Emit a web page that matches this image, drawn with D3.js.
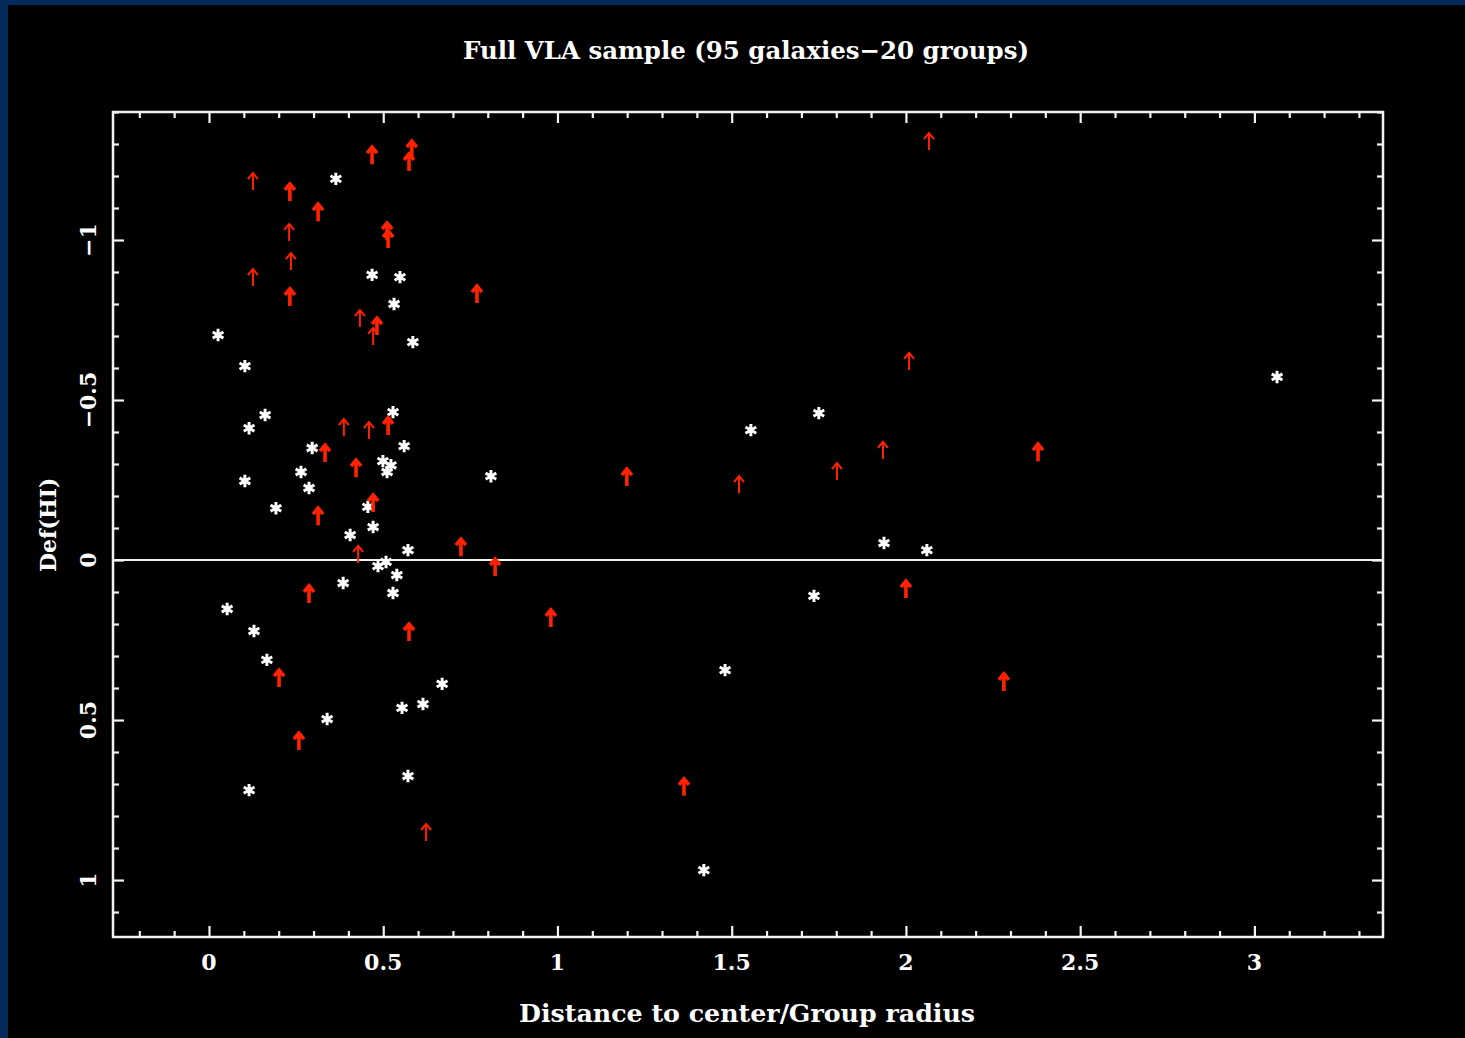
<!DOCTYPE html>
<html>
<head>
<meta charset="utf-8">
<script src="https://cdn.jsdelivr.net/npm/d3@7"></script>
<style>
  html, body { margin: 0; padding: 0; background: #022b5c; }
  svg { display: block; }
  text { font-family: "DejaVu Serif", "Liberation Serif", serif; font-weight: bold; fill: #ffffff; }
</style>
</head>
<body>
<svg id="chart" width="1465" height="1038"></svg>
<script>
// ---- Data ----
const titleText = "Full VLA sample (95 galaxies\u221220 groups)";
const xLabel = "Distance to center/Group radius";
const yLabel = "Def(HI)";

const xMajorTicks = [0, 0.5, 1, 1.5, 2, 2.5, 3];
const xTickLabels = ["0", "0.5", "1", "1.5", "2", "2.5", "3"];
const yMajorTicks = [-1, -0.5, 0, 0.5, 1];
const yTickLabels = ["\u22121", "\u22120.5", "0", "0.5", "1"];

// Detections (white asterisks): [distance, Def(HI)]
const detections = [
  [0.364, -1.191], [0.026, -0.703], [0.103, -0.606], [0.161, -0.453], [0.115, -0.412],
  [0.468, -0.891], [0.548, -0.884], [0.531, -0.800], [0.585, -0.681], [0.528, -0.462],
  [0.560, -0.356], [0.296, -0.350], [0.264, -0.275], [0.287, -0.225], [0.103, -0.247],
  [0.192, -0.162], [0.499, -0.309], [0.522, -0.296], [0.511, -0.275], [0.456, -0.166],
  [0.405, -0.078], [0.471, -0.103], [0.571, -0.031], [0.485, 0.019], [0.508, 0.006],
  [0.539, 0.047], [0.528, 0.103], [0.385, 0.072], [0.052, 0.153], [0.129, 0.222],
  [0.166, 0.312], [0.669, 0.387], [0.614, 0.450], [0.554, 0.462], [0.339, 0.497],
  [0.571, 0.675], [0.115, 0.719], [0.809, -0.262], [1.555, -0.406], [1.750, -0.459],
  [1.937, -0.053], [2.060, -0.031], [1.736, 0.112], [1.481, 0.344], [1.420, 0.969],
  [3.065, -0.572]
];

// Upper limits drawn with bold red arrows: [distance, Def(HI) limit]
const limitsBold = [
  [0.232, -1.122], [0.313, -1.059], [0.232, -0.794], [0.468, -1.237], [0.582, -1.256],
  [0.574, -1.216], [0.511, -1.000], [0.514, -0.975], [0.769, -0.803], [0.482, -0.703],
  [0.514, -0.391], [0.333, -0.306], [0.422, -0.259], [0.471, -0.150], [0.313, -0.109],
  [0.287, 0.134], [0.574, 0.253], [0.201, 0.397], [0.258, 0.594], [0.723, -0.012],
  [0.821, 0.050], [0.981, 0.209], [1.199, -0.231], [1.363, 0.737], [2.281, 0.409],
  [2.379, -0.309], [2.000, 0.119]
];

// Upper limits drawn with thin red arrows
const limitsThin = [
  [0.126, -1.156], [0.230, -0.997], [0.235, -0.906], [0.126, -0.856], [0.433, -0.728],
  [0.471, -0.672], [0.387, -0.387], [0.459, -0.378], [0.428, 0.009], [0.623, 0.878],
  [1.521, -0.209], [1.802, -0.250], [1.934, -0.316], [2.066, -1.281], [2.009, -0.594]
];

// ---- Drawing ----
const svg = d3.select("#chart");
const W = 1465, H = 1038;
const plot = { left: 113, right: 1383, top: 112, bottom: 937 };

svg.append("rect").attr("x", 8).attr("y", 5).attr("width", W - 8).attr("height", H - 5).attr("fill", "#000");

const x = d3.scaleLinear().domain([-0.2755, 3.369]).range([plot.left, plot.right]);
const y = d3.scaleLinear().domain([-1.4, 1.178]).range([plot.top, plot.bottom]);

const axisColor = "#f2f2f2";
const xMinor = d3.range(-2, 34).map(d => d / 10).filter(d => xMajorTicks.indexOf(d) < 0);
const yMinor = d3.range(-14, 12).map(d => d / 10).filter(d => yMajorTicks.indexOf(d) < 0);

function styleAxis(g) {
  g.select(".domain").remove();
  g.selectAll(".tick line").attr("stroke", axisColor).attr("stroke-width", 2.2);
  g.selectAll(".tick text").remove();
}

// bottom
svg.append("g").attr("transform", `translate(0,${plot.bottom})`)
  .call(d3.axisBottom(x).tickValues(xMinor).tickSize(-6)).call(styleAxis);
svg.append("g").attr("transform", `translate(0,${plot.bottom})`)
  .call(d3.axisBottom(x).tickValues(xMajorTicks).tickSize(-11)).call(styleAxis);
// top
svg.append("g").attr("transform", `translate(0,${plot.top})`)
  .call(d3.axisTop(x).tickValues(xMinor).tickSize(-6)).call(styleAxis);
svg.append("g").attr("transform", `translate(0,${plot.top})`)
  .call(d3.axisTop(x).tickValues(xMajorTicks).tickSize(-11)).call(styleAxis);
// left
svg.append("g").attr("transform", `translate(${plot.left},0)`)
  .call(d3.axisLeft(y).tickValues(yMinor).tickSize(-6)).call(styleAxis);
svg.append("g").attr("transform", `translate(${plot.left},0)`)
  .call(d3.axisLeft(y).tickValues(yMajorTicks).tickSize(-11)).call(styleAxis);
// right
svg.append("g").attr("transform", `translate(${plot.right},0)`)
  .call(d3.axisRight(y).tickValues(yMinor).tickSize(-6)).call(styleAxis);
svg.append("g").attr("transform", `translate(${plot.right},0)`)
  .call(d3.axisRight(y).tickValues(yMajorTicks).tickSize(-11)).call(styleAxis);

// frame
svg.append("rect")
  .attr("x", plot.left).attr("y", plot.top)
  .attr("width", plot.right - plot.left).attr("height", plot.bottom - plot.top)
  .attr("fill", "none").attr("stroke", axisColor).attr("stroke-width", 2.5);

// zero line
svg.append("line")
  .attr("x1", plot.left).attr("x2", plot.right)
  .attr("y1", y(0)).attr("y2", y(0))
  .attr("stroke", axisColor).attr("stroke-width", 2);

// x tick labels
svg.append("g").selectAll("text").data(xMajorTicks).join("text")
  .attr("x", d => x(d)).attr("y", 970)
  .attr("text-anchor", "middle").attr("font-size", 22)
  .text((d, i) => xTickLabels[i]);

// y tick labels (rotated)
svg.append("g").selectAll("text").data(yMajorTicks).join("text")
  .attr("transform", d => `translate(96,${y(d)}) rotate(-90)`)
  .attr("text-anchor", "middle").attr("font-size", 22)
  .text((d, i) => yTickLabels[i]);

// title
svg.append("text").attr("x", 746).attr("y", 59)
  .attr("text-anchor", "middle").attr("font-size", 24.5)
  .attr("textLength", 566).attr("lengthAdjust", "spacingAndGlyphs").text(titleText);

// x label
svg.append("text").attr("x", 747).attr("y", 1022)
  .attr("text-anchor", "middle").attr("font-size", 24.5)
  .attr("textLength", 456).attr("lengthAdjust", "spacingAndGlyphs").text(xLabel);

// y label
svg.append("text").attr("transform", `translate(56,${y(-0.11)}) rotate(-90)`)
  .attr("text-anchor", "middle").attr("font-size", 22).text(yLabel);

// asterisks
const r = 6.2;
function asteriskPath(cx, cy) {
  const p = d3.path();
  for (const a of [90, 30, 150]) {
    const rad = a * Math.PI / 180;
    p.moveTo(cx - r * Math.cos(rad), cy - r * Math.sin(rad));
    p.lineTo(cx + r * Math.cos(rad), cy + r * Math.sin(rad));
  }
  return p.toString();
}
svg.append("g").selectAll("path").data(detections).join("path")
  .attr("d", d => asteriskPath(x(d[0]), y(d[1])))
  .attr("stroke", "#ffffff").attr("stroke-width", 3).attr("fill", "none");

// arrows (tail at value, pointing up)
function arrowPath(cx, ty) {
  const p = d3.path();
  p.moveTo(cx, ty); p.lineTo(cx, ty - 17);
  p.moveTo(cx - 5, ty - 11); p.lineTo(cx, ty - 17); p.lineTo(cx + 5, ty - 11);
  return p.toString();
}
const red = "#ff2200";
svg.append("g").selectAll("path").data(limitsThin).join("path")
  .attr("d", d => arrowPath(x(d[0]), y(d[1])))
  .attr("stroke", red).attr("stroke-width", 2).attr("fill", "none");
svg.append("g").selectAll("path").data(limitsBold).join("path")
  .attr("d", d => arrowPath(x(d[0]), y(d[1])))
  .attr("stroke", red).attr("stroke-width", 3.6).attr("fill", "none")
  .attr("stroke-linejoin", "miter");
</script>
</body>
</html>
